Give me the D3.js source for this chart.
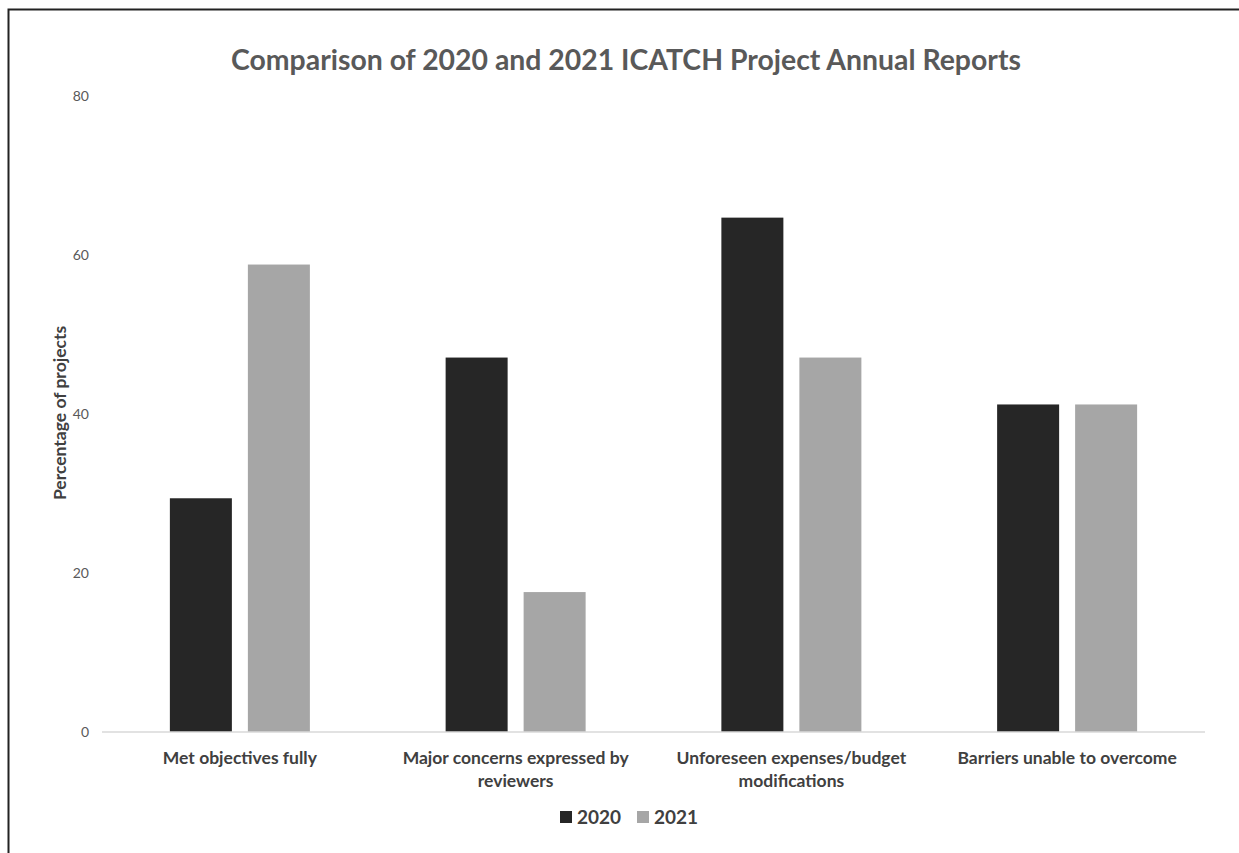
<!DOCTYPE html>
<html>
<head>
<meta charset="utf-8">
<script src="https://cdn.jsdelivr.net/npm/d3@7"></script>
<style>
  body { margin: 0; background: #fff; }
  svg { font-family: Lato, "Open Sans", sans-serif; }
</style>
</head>
<body>
<svg width="1239" height="853"></svg>
<script>
// chart data
var categories = [
  ["Met objectives fully"],
  ["Major concerns expressed by", "reviewers"],
  ["Unforeseen expenses/budget", "modifications"],
  ["Barriers unable to overcome"]
];
var seriesNames = ["2020", "2021"];
var values2020 = [29.4, 47.1, 64.7, 41.2];
var values2021 = [58.8, 17.6, 47.1, 41.2];
var yTicks = [0, 20, 40, 60, 80];

var colors = ["#262626", "#a6a6a6"];

var svg = d3.select("svg");

// frame around the picture
svg.append("rect")
  .attr("x", 8.5).attr("y", 9.5)
  .attr("width", 1300).attr("height", 900)
  .attr("fill", "none")
  .attr("stroke", "#222")
  .attr("stroke-width", 2);

var margin = {top: 96, left: 102, right: 34, bottom: 121};
var width = 1239 - margin.left - margin.right;
var height = 853 - margin.top - margin.bottom;

var g = svg.append("g")
  .attr("transform", "translate(" + margin.left + "," + margin.top + ")");

var x0 = d3.scaleBand()
  .domain(d3.range(categories.length))
  .range([0, width])
  .padding(0);

// two bars of 62px with a 16px gap, centred in each category
var groupW = 140;
var x1 = d3.scaleBand()
  .domain(seriesNames)
  .range([x0.bandwidth() / 2 - groupW / 2, x0.bandwidth() / 2 + groupW / 2])
  .paddingInner(32 / 156);

var y = d3.scaleLinear().domain([0, 80]).range([height, 0]);

// y tick labels (no axis line)
g.selectAll(".ytick")
  .data(yTicks)
  .enter()
  .append("text")
  .attr("x", -13)
  .attr("y", function(d) { return y(d); })
  .attr("dy", "0.35em")
  .attr("text-anchor", "end")
  .attr("font-size", 14)
  .attr("fill", "#595959")
  .text(function(d) { return d; });

// bars
var rows = categories.map(function(c, i) {
  return [values2020[i], values2021[i]];
});

var groups = g.selectAll(".grp")
  .data(rows)
  .enter()
  .append("g")
  .attr("transform", function(d, i) { return "translate(" + x0(i) + ",0)"; });

groups.selectAll("rect")
  .data(function(d) { return d.map(function(v, j) { return {v: v, s: seriesNames[j], j: j}; }); })
  .enter()
  .append("rect")
  .attr("x", function(d) { return x1(d.s); })
  .attr("y", function(d) { return y(d.v); })
  .attr("width", x1.bandwidth())
  .attr("height", function(d) { return height - y(d.v); })
  .attr("fill", function(d) { return colors[d.j]; });

// baseline
g.append("line")
  .attr("x1", 0).attr("x2", width)
  .attr("y1", height).attr("y2", height)
  .attr("stroke", "#d9d9d9")
  .attr("stroke-width", 1.5);

// category labels
var xl = g.selectAll(".xlab")
  .data(categories)
  .enter()
  .append("text")
  .attr("text-anchor", "middle")
  .attr("font-size", 17.5)
  .attr("font-weight", "bold")
  .attr("fill", "#404040")
  .attr("transform", function(d, i) {
    return "translate(" + (x0(i) + x0.bandwidth() / 2) + "," + (height + 32) + ")";
  });

xl.selectAll("tspan")
  .data(function(d) { return d; })
  .enter()
  .append("tspan")
  .attr("x", 0)
  .attr("dy", function(d, i) { return i === 0 ? 0 : 23; })
  .text(function(d) { return d; });

// y axis title
svg.append("text")
  .attr("transform", "translate(66," + (margin.top + height / 2 - 1) + ") rotate(-90)")
  .attr("text-anchor", "middle")
  .attr("font-size", 17.5)
  .attr("font-weight", "bold")
  .attr("fill", "#404040")
  .text("Percentage of projects");

// title
svg.append("text")
  .attr("x", 626)
  .attr("y", 70)
  .attr("text-anchor", "middle")
  .attr("font-size", 28.4)
  .attr("font-weight", "bold")
  .attr("fill", "#595959")
  .text("Comparison of 2020 and 2021 ICATCH Project Annual Reports");

// legend
var legend = svg.append("g").attr("transform", "translate(560,817)");
var items = legend.selectAll("g")
  .data(seriesNames)
  .enter()
  .append("g")
  .attr("transform", function(d, i) { return "translate(" + (i * 77) + ",0)"; });

items.append("rect")
  .attr("x", 0).attr("y", -6)
  .attr("width", 12).attr("height", 12)
  .attr("fill", function(d, i) { return colors[i]; });

items.append("text")
  .attr("x", 17)
  .attr("dy", "0.35em")
  .attr("font-size", 19)
  .attr("font-weight", "bold")
  .attr("fill", "#404040")
  .text(function(d) { return d; });
</script>
</body>
</html>
